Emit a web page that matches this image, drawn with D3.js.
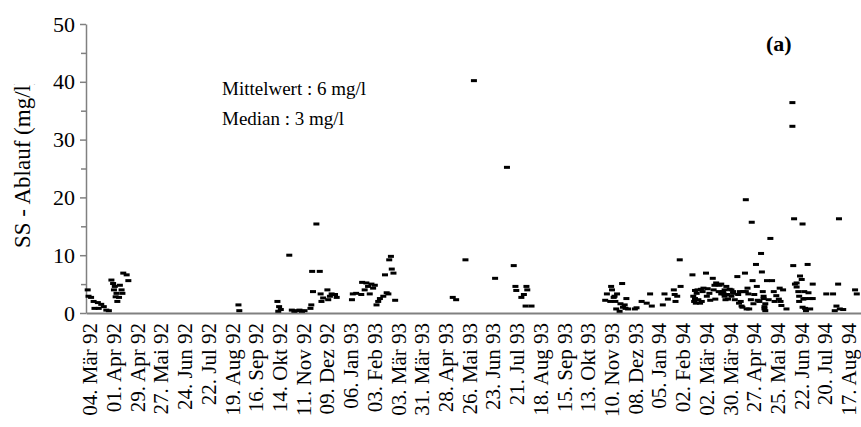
<!DOCTYPE html>
<html>
<head>
<meta charset="utf-8">
<script src="https://cdn.jsdelivr.net/npm/d3@7"></script>
<style>
  body { margin: 0; background: #fff; }
  svg { display: block; font-family: 'Liberation Serif', 'Times New Roman', serif; }
  .axis path, .axis line { stroke: #808080; }
  .axis text { fill: #000; }
</style>
</head>
<body>
<div id="chart"></div>
<script>
// SS - Ablauf, Einzelwerte [Datum, mg/l]
const samples1992 = [
  ['1992-03-02', 4.0], ['1992-03-03', 2.9], ['1992-03-06', 2.7], ['1992-03-09', 2.0], ['1992-03-10', 0.8],
  ['1992-03-14', 1.8], ['1992-03-15', 0.8], ['1992-03-18', 1.5], ['1992-03-21', 1.1], ['1992-03-24', 0.5],
  ['1992-03-27', 0.4], ['1992-03-30', 5.7], ['1992-04-01', 5.1], ['1992-04-02', 4.0], ['1992-04-03', 4.6],
  ['1992-04-04', 2.8], ['1992-04-05', 3.4], ['1992-04-06', 2.0], ['1992-04-08', 2.7], ['1992-04-09', 4.8],
  ['1992-04-11', 4.0], ['1992-04-12', 3.4], ['1992-04-13', 6.9], ['1992-04-17', 6.6], ['1992-04-19', 5.6],
  ['1992-08-27', 1.4], ['1992-08-28', 0.4],
  ['1992-10-12', 2.0], ['1992-10-13', 0.3], ['1992-10-14', 1.1], ['1992-10-16', 0.6], ['1992-10-26', 10.0],
  ['1992-10-29', 0.5], ['1992-11-01', 0.3], ['1992-11-04', 0.4], ['1992-11-07', 0.5], ['1992-11-10', 0.3],
  ['1992-11-13', 0.4], ['1992-11-20', 0.8], ['1992-11-21', 1.4], ['1992-11-22', 7.2], ['1992-11-23', 3.7],
  ['1992-11-27', 15.4], ['1992-12-01', 7.2], ['1992-12-02', 3.3], ['1992-12-03', 2.0], ['1992-12-05', 2.6],
  ['1992-12-10', 4.0], ['1992-12-11', 2.3], ['1992-12-13', 2.9], ['1992-12-15', 3.3], ['1992-12-19', 3.2],
  ['1992-12-21', 2.7]
]

const samples1993 = [
  ['1993-01-08', 2.3], ['1993-01-09', 3.3], ['1993-01-13', 3.4], ['1993-01-19', 3.2], ['1993-01-20', 5.3],
  ['1993-01-23', 4.0], ['1993-01-25', 5.2], ['1993-01-27', 4.6], ['1993-01-29', 3.3], ['1993-01-31', 5.0],
  ['1993-02-02', 4.3], ['1993-02-04', 4.8], ['1993-02-06', 1.4], ['1993-02-08', 2.0], ['1993-02-10', 2.5],
  ['1993-02-14', 2.9], ['1993-02-16', 6.6], ['1993-02-18', 3.5], ['1993-02-20', 3.3], ['1993-02-21', 9.2],
  ['1993-02-23', 9.8], ['1993-02-24', 7.6], ['1993-02-26', 6.9], ['1993-02-28', 2.2],
  ['1993-05-07', 2.7], ['1993-05-11', 2.3], ['1993-05-22', 9.2], ['1993-06-01', 40.2], ['1993-06-26', 6.0],
  ['1993-07-10', 25.2], ['1993-07-18', 8.2], ['1993-07-20', 4.6], ['1993-07-21', 3.9], ['1993-07-27', 2.7],
  ['1993-07-30', 3.2], ['1993-08-01', 1.2], ['1993-08-02', 4.6], ['1993-08-03', 4.0], ['1993-08-08', 1.2],
  ['1993-11-03', 2.2], ['1993-11-05', 3.3], ['1993-11-09', 2.0], ['1993-11-10', 4.6], ['1993-11-11', 4.0],
  ['1993-11-13', 2.7], ['1993-11-14', 2.9], ['1993-11-15', 2.0], ['1993-11-16', 0.7], ['1993-11-17', 3.3],
  ['1993-11-20', 0.3], ['1993-11-21', 1.6], ['1993-11-23', 5.1], ['1993-11-24', 1.0], ['1993-11-26', 1.4],
  ['1993-11-27', 0.8], ['1993-11-28', 2.5], ['1993-11-30', 0.7], ['1993-12-08', 0.7], ['1993-12-10', 0.9],
  ['1993-12-16', 2.0], ['1993-12-22', 1.7], ['1993-12-26', 3.3], ['1993-12-28', 1.2]
]

const samples1994 = [
  ['1994-01-10', 1.4], ['1994-01-12', 3.3], ['1994-01-16', 2.4], ['1994-01-23', 4.0], ['1994-01-24', 3.2],
  ['1994-01-25', 2.0], ['1994-01-27', 2.9], ['1994-01-30', 9.2], ['1994-01-31', 4.6],
  ['1994-02-14', 6.6], ['1994-02-15', 2.9], ['1994-02-16', 2.0], ['1994-02-17', 3.9], ['1994-02-17', 2.5],
  ['1994-02-18', 1.7], ['1994-02-19', 3.4], ['1994-02-20', 4.0], ['1994-02-21', 2.3], ['1994-02-23', 1.7],
  ['1994-02-24', 4.1], ['1994-02-25', 2.0], ['1994-02-26', 3.7], ['1994-02-27', 4.3],
  ['1994-03-02', 6.9], ['1994-03-03', 2.9], ['1994-03-04', 4.2], ['1994-03-06', 3.4], ['1994-03-07', 2.2],
  ['1994-03-10', 6.0], ['1994-03-11', 4.0], ['1994-03-12', 4.8], ['1994-03-13', 2.4], ['1994-03-14', 5.2],
  ['1994-03-16', 4.9], ['1994-03-17', 3.7], ['1994-03-18', 4.8], ['1994-03-20', 5.0], ['1994-03-20', 3.3],
  ['1994-03-22', 3.7], ['1994-03-23', 3.3], ['1994-03-24', 4.0], ['1994-03-24', 2.9], ['1994-03-25', 2.3],
  ['1994-03-26', 4.6], ['1994-03-27', 3.2], ['1994-03-28', 2.4], ['1994-03-30', 4.1],
  ['1994-04-01', 2.9], ['1994-04-01', 4.0], ['1994-04-03', 3.7], ['1994-04-03', 3.4], ['1994-04-05', 2.3],
  ['1994-04-08', 6.3], ['1994-04-09', 3.2], ['1994-04-10', 1.7], ['1994-04-11', 3.7], ['1994-04-12', 2.0],
  ['1994-04-13', 1.2], ['1994-04-14', 1.0], ['1994-04-15', 3.7], ['1994-04-17', 6.9], ['1994-04-18', 3.7],
  ['1994-04-18', 19.6], ['1994-04-19', 0.7], ['1994-04-20', 4.3], ['1994-04-21', 3.3], ['1994-04-22', 0.7],
  ['1994-04-24', 2.3], ['1994-04-25', 15.7], ['1994-04-26', 5.6], ['1994-04-27', 1.6], ['1994-04-28', 3.2],
  ['1994-04-30', 8.4],
  ['1994-05-01', 4.6], ['1994-05-02', 2.2], ['1994-05-04', 2.0], ['1994-05-06', 10.3], ['1994-05-07', 7.1],
  ['1994-05-08', 3.7], ['1994-05-09', 2.9], ['1994-05-09', 2.5], ['1994-05-10', 1.1], ['1994-05-10', 0.7],
  ['1994-05-11', 1.6], ['1994-05-11', 0.4], ['1994-05-13', 5.6], ['1994-05-15', 2.3], ['1994-05-17', 12.9],
  ['1994-05-19', 5.6], ['1994-05-21', 3.7], ['1994-05-22', 2.0], ['1994-05-24', 3.0], ['1994-05-27', 2.4],
  ['1994-05-28', 4.3], ['1994-05-29', 2.0], ['1994-05-30', 1.3], ['1994-06-01', 4.0], ['1994-06-05', 0.7],
  ['1994-06-12', 36.4], ['1994-06-12', 32.3], ['1994-06-13', 8.2], ['1994-06-14', 16.3], ['1994-06-15', 5.0],
  ['1994-06-17', 5.2], ['1994-06-17', 4.5], ['1994-06-19', 3.7], ['1994-06-20', 2.9], ['1994-06-20', 2.0],
  ['1994-06-21', 6.4], ['1994-06-23', 5.8], ['1994-06-24', 15.4], ['1994-06-24', 1.0], ['1994-06-25', 2.4],
  ['1994-06-26', 3.7], ['1994-06-27', 0.8], ['1994-06-27', 2.5], ['1994-06-28', 0.4], ['1994-06-30', 8.4],
  ['1994-07-01', 3.5], ['1994-07-03', 0.7], ['1994-07-03', 2.5], ['1994-07-06', 2.5], ['1994-07-06', 5.0],
  ['1994-07-22', 3.3], ['1994-07-30', 3.3], ['1994-08-01', 0.4], ['1994-08-03', 1.2], ['1994-08-05', 5.0],
  ['1994-08-06', 16.3], ['1994-08-07', 0.7], ['1994-08-11', 0.6], ['1994-08-25', 4.0], ['1994-08-27', 3.3]
]

const xTickLabels = [
  '04. Mär 92', '01. Apr 92', '29. Apr 92', '27. Mai 92', '24. Jun 92', '22. Jul 92', '19. Aug 92',
  '16. Sep 92', '14. Okt 92', '11. Nov 92', '09. Dez 92', '06. Jan 93', '03. Feb 93', '03. Mär 93',
  '31. Mär 93', '28. Apr 93', '26. Mai 93', '23. Jun 93', '21. Jul 93', '18. Aug 93', '15. Sep 93',
  '13. Okt 93', '10. Nov 93', '08. Dez 93', '05. Jan 94', '02. Feb 94', '02. Mär 94', '30. Mär 94',
  '27. Apr 94', '25. Mai 94', '22. Jun 94', '20. Jul 94', '17. Aug 94'
]
const monthNames = ['Jan', 'Feb', 'Mär', 'Apr', 'Mai', 'Jun', 'Jul', 'Aug', 'Sep', 'Okt', 'Nov', 'Dez']
const yMajorTicks = [0, 10, 20, 30, 40, 50]
const yMinorTicks = [5, 15, 25, 35, 45]
const statLines = ['Mittelwert : 6 mg/l', 'Median : 3 mg/l']

const W = 861
const H = 427
const FONT = "'Liberation Serif', 'Times New Roman', Times, serif"
const parse = d3.timeParse('%Y-%m-%d')

function labelDate(label) {
  const [day, rest] = label.split('. ')
  const [mon, yy] = rest.split(' ')
  return new Date(1900 + Number(yy), monthNames.indexOf(mon), Number(day))
}

const tickDates = xTickLabels.map(labelDate)
const labelByTime = new Map(tickDates.map((d, i) => [d.getTime(), xTickLabels[i]]))

const samples = [...samples1992, ...samples1993, ...samples1994]
  .map(([date, value]) => ({ date: parse(date), value }))

const x = d3.scaleTime()
  .domain([new Date(1992, 1, 29), new Date(1994, 8, 1)])
  .range([86, 861])
const y = d3.scaleLinear().domain([0, 50]).range([313, 24])

const svg = d3.select('#chart').append('svg')
  .attr('width', W)
  .attr('height', H)
  .attr('viewBox', `0 0 ${W} ${H}`)

// y axis, minor ticks then major ticks with labels
svg.append('g')
  .attr('class', 'axis')
  .attr('transform', 'translate(86,0)')
  .call(d3.axisLeft(y).tickValues(yMinorTicks).tickSize(5).tickSizeOuter(0).tickFormat(''))
  .call((g) => g.selectAll('line').attr('stroke-width', 1.5))
  .call((g) => g.select('.domain').remove())

svg.append('g')
  .attr('class', 'axis')
  .attr('transform', 'translate(86,0)')
  .call(d3.axisLeft(y).tickValues(yMajorTicks).tickSize(6).tickSizeOuter(0).tickPadding(5))
  .call((g) => g.select('.domain').attr('stroke-width', 1.5))
  .call((g) => g.selectAll('line').attr('stroke-width', 1.5))
  .call((g) => g.selectAll('text').attr('font-size', 22).attr('font-family', FONT))

// x axis, rotated date labels
svg.append('g')
  .attr('class', 'axis')
  .attr('transform', 'translate(0,313)')
  .call(d3.axisBottom(x).tickValues(tickDates).tickSize(0).tickSizeOuter(0)
    .tickFormat((d) => labelByTime.get(d.getTime())))
  .call((g) => g.select('.domain').attr('stroke-width', 2).attr('stroke', '#7a7a7a'))
  .call((g) => g.selectAll('text')
    .attr('font-size', 21)
    .attr('font-family', FONT)
    .attr('transform', 'rotate(-90)')
    .attr('text-anchor', 'end')
    .attr('x', -10)
    .attr('y', 0)
    .attr('dy', '0.35em'))

// markers: short horizontal dashes
svg.append('g')
  .selectAll('rect')
  .data(samples)
  .join('rect')
  .attr('x', (d) => x(d.date) - 3)
  .attr('y', (d) => y(d.value) - 1.5)
  .attr('width', 6)
  .attr('height', 3)
  .attr('fill', '#000')

// y title, cut off at the top like the original
svg.append('clipPath').attr('id', 'titleClip')
  .append('rect').attr('x', 0).attr('y', 84).attr('width', 60).attr('height', 300)

svg.append('g')
  .attr('clip-path', 'url(#titleClip)')
  .append('text')
  .attr('transform', 'translate(30,248) rotate(-90)')
  .attr('font-size', 23)
  .attr('font-family', FONT)
  .text('SS - Ablauf (mg/l)')

svg.append('g')
  .selectAll('text')
  .data(statLines)
  .join('text')
  .attr('x', 222)
  .attr('y', (d, i) => 95 + i * 30)
  .attr('font-size', 19)
  .attr('font-family', FONT)
  .text((d) => d)

svg.append('text')
  .attr('x', 766)
  .attr('y', 51)
  .attr('font-size', 22)
  .attr('font-weight', 'bold')
  .attr('font-family', FONT)
  .text('(a)')
</script>
</body>
</html>
